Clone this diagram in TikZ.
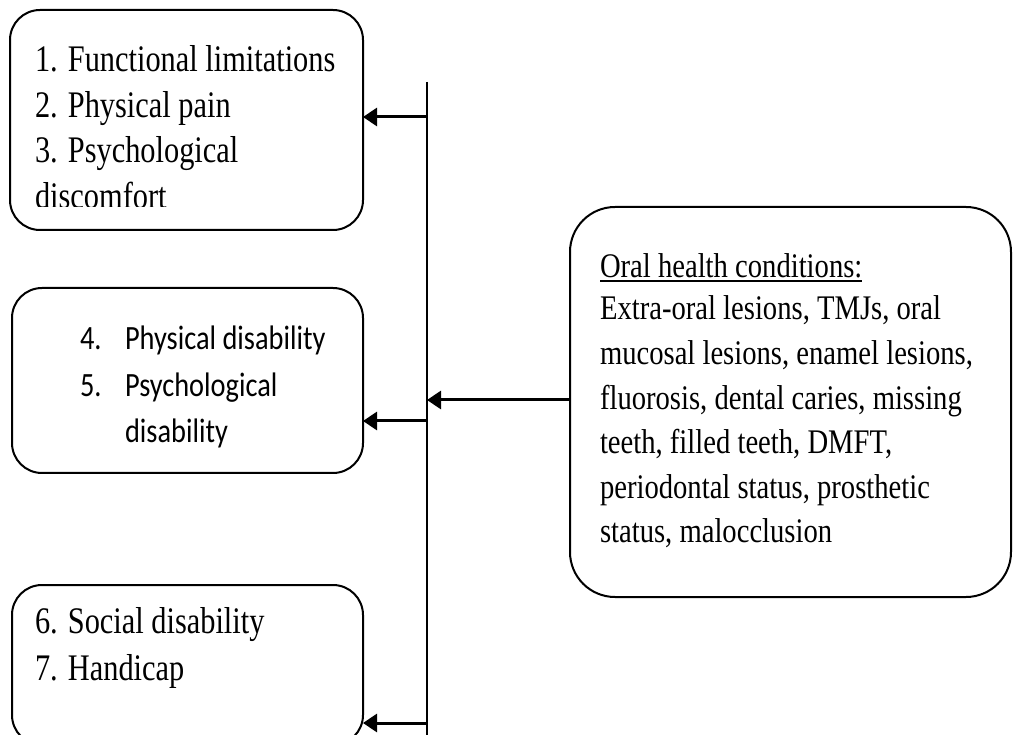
\documentclass[tikz,border=0pt]{standalone}
\usepackage{fontspec}
\setmainfont{Liberation Serif}
\newfontfamily\narrowserif[FakeStretch=0.81]{Liberation Serif}
\newfontfamily\timesish[FakeStretch=0.83]{Liberation Serif}
\newfontfamily\calibriish[FakeStretch=0.835]{Carlito}
\usetikzlibrary{arrows.meta}
\begin{document}
\begin{tikzpicture}[x=1pt,y=-1pt,
  box/.style={draw, line width=2pt, rounded corners=30pt, inner sep=0pt, outer sep=0pt},
  bigbox/.style={box, rounded corners=45pt},
  txt/.style={inner sep=0pt, outer sep=0pt, anchor=base west},
  arr/.style={line width=3pt, -{Triangle[length=14pt,width=18pt]}},
  stem/.style={line width=2pt}]
\clip (0,0) rectangle (1013,735);
\fill[white] (0,0) rectangle (1013,735);

% boxes
\node[box, minimum width=353pt, minimum height=220pt] (b1) at (186.5,120) {};
\node[box, minimum width=351pt, minimum height=185pt] (b2) at (187.5,380.5) {};
\node[box, minimum width=351pt, minimum height=160pt] (b3) at (187.5,665) {};
\node[bigbox, minimum width=441pt, minimum height=390pt] (rb) at (790.5,402) {};

% texts
\begin{scope}
\clip (0,0) rectangle (1013,207);
\node[txt] (t1) at (35,72) {\parbox[t]{340pt}{\raggedright\narrowserif\fontsize{37.5}{45.5}\selectfont
1. Functional limitations\\2. Physical pain\\3. Psychological\\discomfort}};
\end{scope}

\node[txt] (t2a) at (80,350) {\parbox[t]{40pt}{\raggedright\calibriish\fontsize{34}{46.5}\selectfont 4.\\5.}};
\node[txt] (t2b) at (125,350) {\parbox[t]{230pt}{\raggedright\calibriish\fontsize{34}{46.5}\selectfont
Physical disability\\Psychological\\disability}};

\node[txt] (t3) at (35,633) {\parbox[t]{320pt}{\raggedright\narrowserif\fontsize{37.5}{47}\selectfont
6. Social disability\\7. Handicap}};

\node[txt] (rh) at (600,278) {\timesish\fontsize{34.5}{44.6}\selectfont Oral health conditions:};
\draw[line width=1.5pt] ([yshift=-3pt]rh.base west) -- ([yshift=-3pt]rh.base east);
\node[txt] (rt) at (600,320) {\parbox[t]{400pt}{\raggedright\timesish\fontsize{34.5}{44.6}\selectfont
Extra-oral lesions, TMJs, oral\\mucosal lesions, enamel lesions,\\fluorosis, dental caries, missing\\teeth, filled teeth, DMFT,\\periodontal status, prosthetic\\status, malocclusion}};

% connectors
\coordinate (vt) at (427,82);
\coordinate (vb) at (427,745);
\draw[stem] (vt) -- (vb);
\coordinate (j1) at (427,117);
\coordinate (j2) at (427,421);
\coordinate (j3) at (427,723);
\coordinate (jr) at (427,400);
\draw[arr] (j1) -- (j1 -| b1.east);
\draw[arr] (j2) -- (j2 -| b2.east);
\draw[arr] (j3) -- (j3 -| b3.east);
\draw[arr] (jr -| rb.west) -- (jr);
\end{tikzpicture}
\end{document}
